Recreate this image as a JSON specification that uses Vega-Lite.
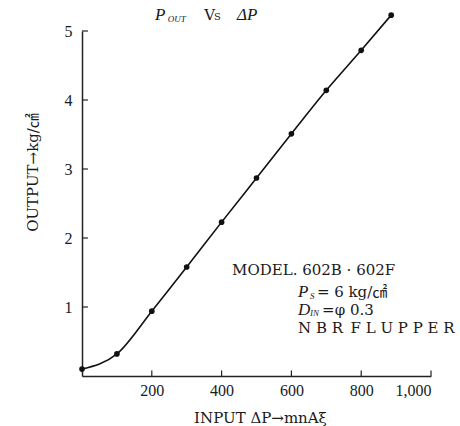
{
  "$schema": "https://vega.github.io/schema/vega-lite/v6.json",
  "width": 349,
  "height": 345,
  "autosize": {"type": "none"},
  "padding": {"left": 82, "top": 31, "right": 29, "bottom": 50},
  "background": "white",
  "config": {
    "view": {"stroke": null},
    "font": "Liberation Serif",
    "axis": {"domainColor": "#222", "domainWidth": 1.5, "ticks": false, "labelColor": "#1a1a1a", "titleColor": "#1a1a1a", "grid": false, "labelFont": "Liberation Serif", "titleFont": "DejaVu Serif, Noto Sans CJK JP", "titleFontWeight": "normal", "labelFontSize": 16, "titleFontSize": 15}
  },
  "layer": [
    {
      "data": {"values": [
        {"dp": 0, "out": 0.1},
        {"dp": 100, "out": 0.32},
        {"dp": 200, "out": 0.94},
        {"dp": 300, "out": 1.58},
        {"dp": 400, "out": 2.23},
        {"dp": 500, "out": 2.87},
        {"dp": 600, "out": 3.51},
        {"dp": 700, "out": 4.14},
        {"dp": 800, "out": 4.72},
        {"dp": 886, "out": 5.23}
      ]},
      "mark": {"type": "line", "interpolate": "monotone", "color": "#111", "strokeWidth": 1.6, "point": {"filled": true, "color": "#111", "size": 32}},
      "encoding": {
        "x": {"field": "dp", "type": "quantitative", "scale": {"domain": [0, 1000], "nice": false},
          "axis": {"values": [200, 400, 600, 800, 1000], "format": ",d", "labelPadding": 6, "title": "INPUT ΔP→mnAξ", "titleX": 178, "titlePadding": 12}},
        "y": {"field": "out", "type": "quantitative", "scale": {"domain": [0, 5], "nice": false},
          "axis": {"values": [1, 2, 3, 4, 5], "format": "d", "labelPadding": 10, "title": "OUTPUT→kg/㎠", "titleY": 141, "titlePadding": 24}}
      }
    },
    {
      "data": {"values": [{"dp": 200}, {"dp": 400}, {"dp": 600}, {"dp": 800}, {"dp": 1000}]},
      "mark": {"type": "rule", "color": "#222", "strokeWidth": 1.2},
      "encoding": {"x": {"field": "dp", "type": "quantitative"}, "y": {"datum": 0}, "y2": {"datum": 0.08}}
    },
    {
      "data": {"values": [{"out": 1}, {"out": 2}, {"out": 3}, {"out": 4}, {"out": 5}]},
      "mark": {"type": "rule", "color": "#222", "strokeWidth": 1.2},
      "encoding": {"y": {"field": "out", "type": "quantitative"}, "x": {"datum": 0}, "x2": {"datum": 17}}
    },
    {
      "data": {"values": [
        {"dp": 430, "out": 1.536, "t": "MODEL. 602B · 602F"},
        {"dp": 673, "out": 1.22, "t": "= 6 kg/㎠"},
        {"dp": 688, "out": 0.957, "t": "=φ 0.3"},
        {"dp": 619, "out": 0.696, "t": "N B R\u2002F L U P P E R"},
        {"dp": 350, "out": 5.23, "t": "V"}
      ]},
      "mark": {"type": "text", "align": "left", "baseline": "middle", "fontSize": 15, "font": "DejaVu Serif, Noto Sans CJK JP", "color": "#1a1a1a"},
      "encoding": {"x": {"field": "dp", "type": "quantitative"}, "y": {"field": "out", "type": "quantitative"}, "text": {"field": "t"}}
    },
    {
      "data": {"values": [
        {"dp": 619, "out": 1.22, "t": "P"},
        {"dp": 619, "out": 0.957, "t": "D"},
        {"dp": 209, "out": 5.23, "t": "P"},
        {"dp": 444, "out": 5.23, "t": "ΔP"}
      ]},
      "mark": {"type": "text", "align": "left", "baseline": "middle", "fontSize": 17, "fontStyle": "italic", "font": "Liberation Serif", "color": "#1a1a1a"},
      "encoding": {"x": {"field": "dp", "type": "quantitative"}, "y": {"field": "out", "type": "quantitative"}, "text": {"field": "t"}}
    },
    {
      "data": {"values": [
        {"dp": 653, "out": 1.16, "t": "S"},
        {"dp": 653, "out": 0.913, "t": "IN"},
        {"dp": 246, "out": 5.18, "t": "OUT"}
      ]},
      "mark": {"type": "text", "align": "left", "baseline": "middle", "fontSize": 9, "fontStyle": "italic", "font": "Liberation Serif", "color": "#1a1a1a"},
      "encoding": {"x": {"field": "dp", "type": "quantitative"}, "y": {"field": "out", "type": "quantitative"}, "text": {"field": "t"}}
    },
    {
      "data": {"values": [
        {"dp": 378, "out": 5.2, "t": "S"}
      ]},
      "mark": {"type": "text", "align": "left", "baseline": "middle", "fontSize": 10, "font": "DejaVu Serif", "color": "#1a1a1a"},
      "encoding": {"x": {"field": "dp", "type": "quantitative"}, "y": {"field": "out", "type": "quantitative"}, "text": {"field": "t"}}
    }
  ]
}
